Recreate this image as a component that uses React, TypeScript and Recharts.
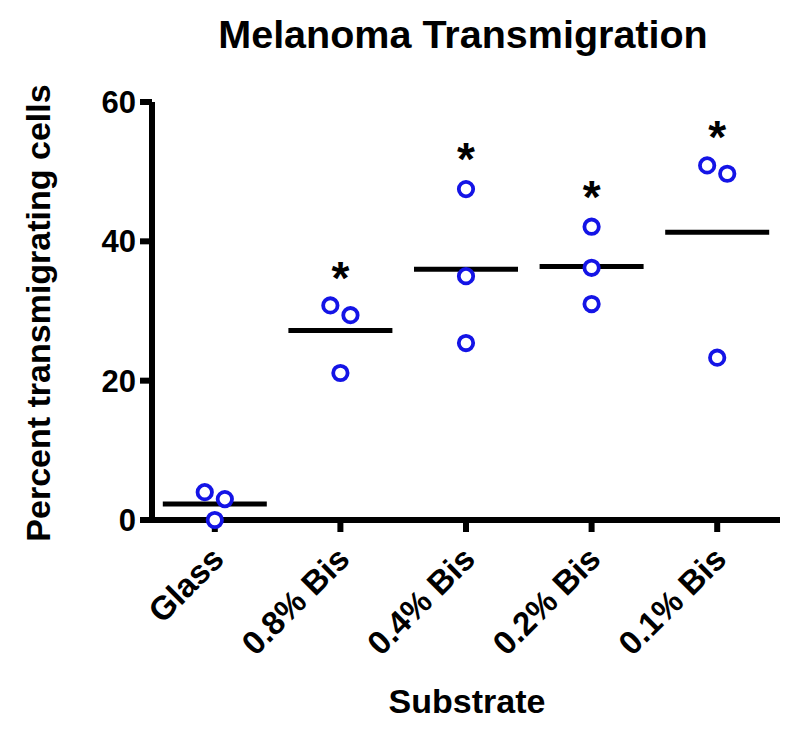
import { ScatterChart, Scatter, XAxis, YAxis } from 'recharts'

const categories = ['Glass', '0.8% Bis', '0.4% Bis', '0.2% Bis', '0.1% Bis']
const replicateValues = [
  [4.0, 3.0, 0.0],
  [30.8, 29.4, 21.1],
  [47.5, 35.0, 25.4],
  [42.1, 36.2, 31.0],
  [50.9, 49.7, 23.3],
]
// horizontal nudges so overlapping replicates stay visible
const jitter = [
  [-0.08, 0.08, 0],
  [-0.08, 0.08, 0],
  [0, 0, 0],
  [0, 0, 0],
  [-0.08, 0.08, 0],
]
const means = [2.3, 27.2, 36.0, 36.4, 41.3]
const starHeights = [null, 36.0, 53.1, 47.7, 56.3]
const yTicks = [0, 20, 40, 60]
const xTicks = categories.map((_, i) => i)

const points = categories.flatMap((_, i) =>
  replicateValues[i].map((v, j) => ({ x: i + jitter[i][j], y: v }))
)
const meanPoints = means.map((m, i) => ({ x: i, y: m }))
const starPoints = starHeights
  .map((h, i) => ({ x: i, y: h }))
  .filter((p) => p.y !== null)

const FONT = '"Liberation Sans", Arial, Helvetica, sans-serif'
const BLUE = '#1414e6'

function Ring(props: any) {
  const { cx, cy } = props
  return <circle cx={cx} cy={cy} r={7.2} fill="#fff" stroke={BLUE} strokeWidth={3.8} />
}

function MeanBar(props: any) {
  const { cx, cy } = props
  return <line x1={cx - 52} x2={cx + 52} y1={cy} y2={cy} stroke="#000" strokeWidth={5} />
}

function Star(props: any) {
  const { cx, cy } = props
  return (
    <text x={cx} y={cy + 25} textAnchor="middle" fontSize={46} fontWeight="bold" fontFamily={FONT} fill="#000">
      *
    </text>
  )
}

function CategoryTick(props: any) {
  const { x, y, payload } = props
  return (
    <g transform={`translate(${x},${y})`}>
      <text
        x={11}
        y={27}
        textAnchor="end"
        transform="rotate(-45 11 27)"
        fontSize={33}
        fontWeight="bold"
        fontFamily={FONT}
        fill="#000"
      >
        {categories[payload.value]}
      </text>
    </g>
  )
}

export default function App() {
  return (
    <div style={{ position: 'absolute', left: 0, top: 0, width: 800, height: 736, background: '#fff' }}>
      <ScatterChart width={800} height={736} margin={{ top: 102, right: 20, bottom: 66, left: 0 }}>
        <XAxis
          type="number"
          dataKey="x"
          domain={[-0.5, 4.5]}
          ticks={xTicks}
          interval={0}
          height={150}
          tick={<CategoryTick />}
          tickSize={12}
          axisLine={{ stroke: '#000', strokeWidth: 6 }}
          tickLine={{ stroke: '#000', strokeWidth: 6 }}
        />
        <YAxis
          type="number"
          dataKey="y"
          domain={[0, 60]}
          ticks={yTicks}
          interval={0}
          width={152}
          tickSize={12}
          tickMargin={4}
          tick={{ fill: '#000', fontSize: 31, fontWeight: 'bold', fontFamily: FONT }}
          axisLine={{ stroke: '#000', strokeWidth: 6 }}
          tickLine={{ stroke: '#000', strokeWidth: 6 }}
        />
        <Scatter data={meanPoints} shape={<MeanBar />} isAnimationActive={false} />
        <Scatter data={points} shape={<Ring />} isAnimationActive={false} />
        <Scatter data={starPoints} shape={<Star />} isAnimationActive={false} />
      </ScatterChart>
      <svg width={800} height={736} style={{ position: 'absolute', left: 0, top: 0, pointerEvents: 'none' }}>
        <text x={463} y={48} textAnchor="middle" fontSize={39.5} fontWeight="bold" fontFamily={FONT} fill="#000">
          Melanoma Transmigration
        </text>
        <text
          x={50}
          y={313}
          textAnchor="middle"
          transform="rotate(-90 50 313)"
          fontSize={34}
          fontWeight="bold"
          fontFamily={FONT}
          fill="#000"
        >
          Percent transmigrating cells
        </text>
        <text x={467} y={713} textAnchor="middle" fontSize={34} fontWeight="bold" fontFamily={FONT} fill="#000">
          Substrate
        </text>
      </svg>
    </div>
  )
}
